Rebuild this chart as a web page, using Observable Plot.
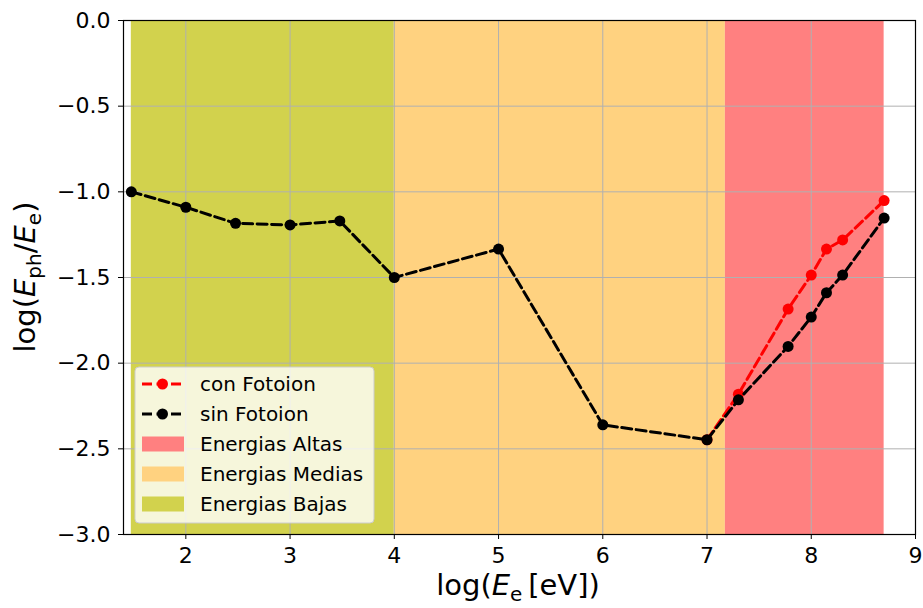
<!DOCTYPE html>
<html>
<head>
<meta charset="utf-8">
<script src="https://cdn.jsdelivr.net/npm/d3@7"></script>
<script src="https://cdn.jsdelivr.net/npm/@observablehq/plot@0.6"></script>
<style>
  html, body { margin: 0; padding: 0; background: #fff; }
  #chart { position: relative; width: 923px; height: 608px; }
  svg { font-family: "DejaVu Sans", sans-serif; }
</style>
</head>
<body>
<div id="chart"></div>
<script>
// Electron energy (log10 eV) and photon energy fraction log(E_ph/E_e)
const sinX = [1.477, 2, 2.477, 3, 3.477, 4, 5, 6, 7, 7.301, 7.778, 8, 8.146, 8.301, 8.699];
const sinY = [-1.0, -1.09, -1.184, -1.193, -1.17, -1.5, -1.334, -2.36, -2.447, -2.214, -1.902, -1.731, -1.589, -1.486, -1.153];
const conX = [7, 7.301, 7.778, 8, 8.146, 8.301, 8.699];
const conY = [-2.447, -2.181, -1.684, -1.486, -1.334, -1.281, -1.051];

// Energy bands
const bandNames = ["Energias Bajas", "Energias Medias", "Energias Altas"];
const bandStart = [1.477, 4, 7.176];
const bandEnd = [4, 7.176, 8.699];
const bandColors = ["#d2d24d", "#ffd280", "#ff8080"];

const xTicks = [2, 3, 4, 5, 6, 7, 8, 9];
const yTicks = [-3, -2.5, -2, -1.5, -1, -0.5, 0];

const bands = bandNames.map((name, i) => ({name, x1: bandStart[i], x2: bandEnd[i], color: bandColors[i]}));
const sin = sinX.map((x, i) => ({x, y: sinY[i]}));
const con = conX.map((x, i) => ({x, y: conY[i]}));

const plot = Plot.plot({
  width: 923,
  height: 608,
  marginLeft: 123,
  marginRight: 8,
  marginTop: 20,
  marginBottom: 74,
  style: {fontFamily: "DejaVu Sans, sans-serif", fontSize: "22px", color: "#000", background: "#fff"},
  x: {domain: [1.402, 9], label: null},
  y: {domain: [-3, 0], label: null},
  marks: [
    Plot.rect(bands, {x1: "x1", x2: "x2", y1: -3, y2: 0, fill: "color"}),
    Plot.gridX(xTicks, {stroke: "#b0b0b0", strokeOpacity: 1, strokeWidth: 1}),
    Plot.gridY(yTicks, {stroke: "#b0b0b0", strokeOpacity: 1, strokeWidth: 1}),
    Plot.line(con, {x: "x", y: "y", stroke: "#ff0000", strokeWidth: 3, strokeDasharray: "10,4.5"}),
    Plot.dot(con, {x: "x", y: "y", fill: "#ff0000", r: 5.5}),
    Plot.line(sin, {x: "x", y: "y", stroke: "#000", strokeWidth: 3, strokeDasharray: "10,4.5"}),
    Plot.dot(sin, {x: "x", y: "y", fill: "#000", r: 5.5}),
    Plot.axisX(xTicks, {tickFormat: "d", tickSize: 5, tickPadding: 8, fontSize: 22, stroke: "#000", label: null}),
    Plot.axisY(yTicks, {tickFormat: ".1f", tickSize: 5, tickPadding: 8, fontSize: 22, stroke: "#000", label: null}),
    Plot.frame({stroke: "#000", strokeWidth: 1.2})
  ]
});

document.getElementById("chart").appendChild(plot);

const svg = d3.select(plot);

// Axis titles with mathtext-style subscripts
const xl = svg.append("text")
  .attr("x", 518).attr("y", 595)
  .attr("text-anchor", "middle")
  .attr("font-size", 29)
  .attr("fill", "#000");
xl.append("tspan").text("log(");
xl.append("tspan").attr("font-style", "italic").text("E");
xl.append("tspan").attr("font-size", 20).attr("dy", 6).text("e");
xl.append("tspan").attr("dy", -6).text("\u2009[eV])");

const yl = svg.append("text")
  .attr("transform", "translate(35,277) rotate(-90)")
  .attr("text-anchor", "middle")
  .attr("font-size", 29)
  .attr("fill", "#000");
yl.append("tspan").text("log(");
yl.append("tspan").attr("font-style", "italic").text("E");
yl.append("tspan").attr("font-size", 20).attr("dy", 6).text("ph");
yl.append("tspan").attr("dy", -6).text("/");
yl.append("tspan").attr("font-style", "italic").text("E");
yl.append("tspan").attr("font-size", 20).attr("dy", 6).text("e");
yl.append("tspan").attr("dy", -6).text(")");

// Legend
const lg = svg.append("g").attr("transform", "translate(135,367)");
lg.append("rect")
  .attr("width", 239).attr("height", 156).attr("rx", 4)
  .attr("fill", "#fff").attr("fill-opacity", 0.8)
  .attr("stroke", "#cccccc").attr("stroke-width", 1);
const entries = [
  {label: "con Fotoion", type: "line", color: "#ff0000"},
  {label: "sin Fotoion", type: "line", color: "#000"},
  {label: bandNames[2], type: "patch", color: bandColors[2]},
  {label: bandNames[1], type: "patch", color: bandColors[1]},
  {label: bandNames[0], type: "patch", color: bandColors[0]}
];
entries.forEach((e, i) => {
  const cy = 17 + i * 30;
  const g = lg.append("g").attr("transform", `translate(0,${cy})`);
  if (e.type === "line") {
    g.append("line").attr("x1", 7).attr("x2", 48).attr("y1", 0).attr("y2", 0)
      .attr("stroke", e.color).attr("stroke-width", 3).attr("stroke-dasharray", "10,4.5");
    g.append("circle").attr("cx", 27.5).attr("cy", 0).attr("r", 5.5).attr("fill", e.color);
  } else {
    g.append("rect").attr("x", 7).attr("y", -7.5).attr("width", 42).attr("height", 15).attr("fill", e.color);
  }
  g.append("text").attr("x", 65).attr("y", 0).attr("dy", "0.35em")
    .attr("text-anchor", "start")
    .attr("font-size", 20).attr("fill", "#000").text(e.label);
});
</script>
</body>
</html>
